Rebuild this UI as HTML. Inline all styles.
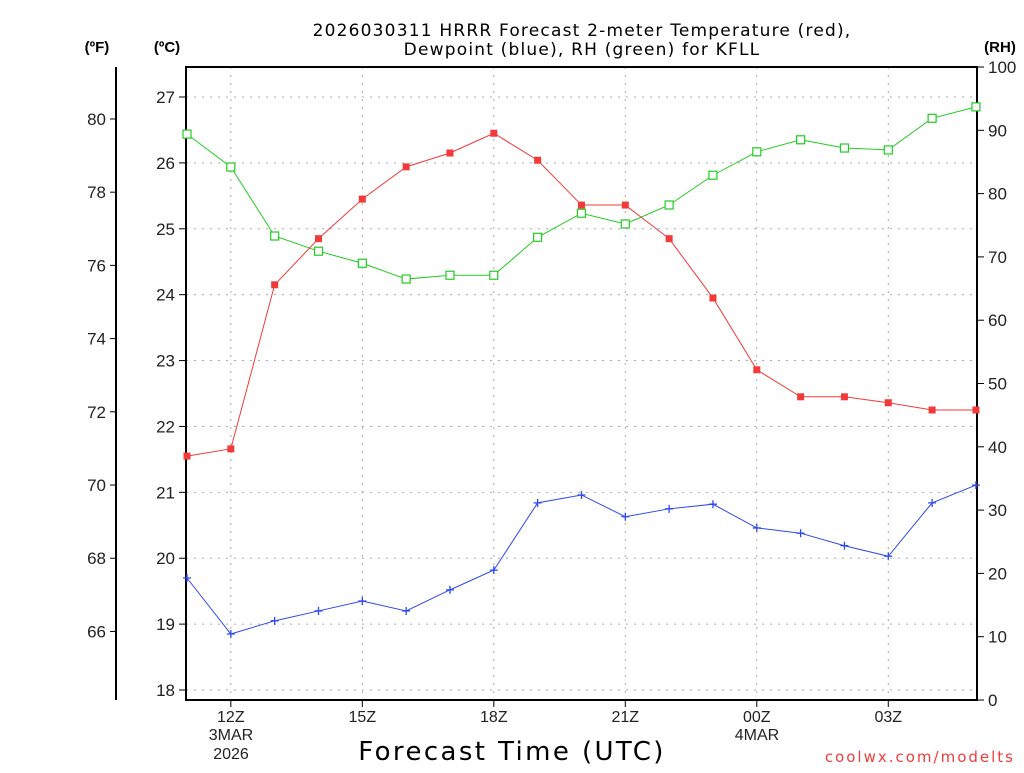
<!DOCTYPE html>
<html><head><meta charset="utf-8"><style>
body{margin:0;background:#fff;width:1024px;height:768px;overflow:hidden}
svg{font-family:"Liberation Sans","DejaVu Sans",sans-serif}
</style></head><body>
<svg id="chart" width="1024" height="768" viewBox="0 0 1024 768" xmlns="http://www.w3.org/2000/svg">
<rect width="1024" height="768" fill="#fff"/>
<g id="grid"></g>
<g id="axes"></g>
<g id="series"></g>
<text x="582" y="36" text-anchor="middle" font-size="17" letter-spacing="1.2" font-family="DejaVu Sans, sans-serif">2026030311 HRRR Forecast 2-meter Temperature (red),</text>
<text x="582" y="55" text-anchor="middle" font-size="17" letter-spacing="1.2" font-family="DejaVu Sans, sans-serif">Dewpoint (blue), RH (green) for KFLL</text>
<text x="97" y="52" text-anchor="middle" font-size="15" font-weight="bold">(ºF)</text>
<text x="167" y="52" text-anchor="middle" font-size="15" font-weight="bold">(ºC)</text>
<text x="1000" y="52" text-anchor="middle" font-size="15" font-weight="bold">(RH)</text>
<text x="512" y="760" text-anchor="middle" font-size="26" letter-spacing="2.4" font-family="DejaVu Sans, sans-serif">Forecast Time (UTC)</text>
<text x="1015" y="762" text-anchor="end" font-size="15" fill="#f03c3c" font-family="DejaVu Sans, sans-serif" letter-spacing="2">coolwx.com/modelts</text>
</svg>
<script>
const hours=[11,12,13,14,15,16,17,18,19,20,21,22,23,24,25,26,27,28,29];
const tempC=[21.55,21.66,24.15,24.85,25.45,25.94,26.15,26.45,26.04,25.36,25.36,24.85,23.95,22.86,22.45,22.45,22.36,22.25,22.25];
const dewC=[19.70,18.85,19.05,19.20,19.35,19.20,19.52,19.82,20.84,20.96,20.63,20.75,20.82,20.46,20.38,20.19,20.03,20.84,21.11];
const rh=[89.4,84.2,73.3,70.9,69.0,66.5,67.1,67.1,73.1,76.9,75.2,78.2,82.9,86.6,88.5,87.2,86.9,91.9,93.7];
const cTicks=[18,19,20,21,22,23,24,25,26,27];
const fTicks=[66,68,70,72,74,76,78,80];
const rhTicks=[0,10,20,30,40,50,60,70,80,90,100];
const xTickHours=[12,15,18,21,24,27];
const xTickLabels=["12Z","15Z","18Z","21Z","00Z","03Z"];
const X0=186,X1=977,Y0=67,Y1=700;
const NS="http://www.w3.org/2000/svg";
const xs=h=>187+(h-11)*43.83;
const yC=c=>97+(27-c)*65.89;
const yF=f=>yC((f-32)*5/9);
const yR=r=>700-r*6.33;
function mk(p,tag,a,txt){const e=document.createElementNS(NS,tag);for(const k in a)e.setAttribute(k,a[k]);if(txt!==undefined)e.textContent=txt;p.appendChild(e);return e;}
const grid=document.getElementById('grid'),axes=document.getElementById('axes'),ser=document.getElementById('series');
cTicks.forEach(c=>{const l=mk(grid,'line',{x1:X0,x2:X1,y1:yC(c),y2:yC(c),stroke:'#aaa','stroke-dasharray':'2 6'});


mk(axes,'line',{x1:X0-7,x2:X0,y1:yC(c),y2:yC(c),stroke:'#000'});
const t=mk(axes,'text',{x:X0-11,y:yC(c)+6,'text-anchor':'end','font-size':17,fill:'#222'},String(c));

});
xTickHours.forEach((h,i)=>{const l=mk(grid,'line',{x1:xs(h),x2:xs(h),y1:Y0,y2:Y1,stroke:'#aaa','stroke-dasharray':'2 6'});


mk(axes,'line',{x1:xs(h),x2:xs(h),y1:Y1,y2:Y1+7,stroke:'#000'});
const t=mk(axes,'text',{x:xs(h),y:722,'text-anchor':'middle','font-size':16,fill:'#222'},xTickLabels[i]);

});
[[231,740,'3MAR'],[231,759,'2026'],[757,740,'4MAR']].forEach(d=>{const t=mk(axes,'text',{x:d[0],y:d[1],'text-anchor':'middle','font-size':16,fill:'#222'},d[2]);

});
fTicks.forEach(f=>{mk(axes,'line',{x1:110,x2:116,y1:yF(f),y2:yF(f),stroke:'#000'});
const t=mk(axes,'text',{x:106,y:yF(f)+6,'text-anchor':'end','font-size':17,fill:'#222'},String(f));

});
rhTicks.forEach(r=>{mk(axes,'line',{x1:X1,x2:X1+7,y1:yR(r),y2:yR(r),stroke:'#000'});
const t=mk(axes,'text',{x:988,y:yR(r)+6,'font-size':17,fill:'#222'},String(r));

});
mk(axes,'line',{x1:116,x2:116,y1:Y0,y2:Y1,stroke:'#000','stroke-width':2});
mk(axes,'rect',{x:X0,y:Y0,width:X1-X0,height:Y1-Y0,fill:'none',stroke:'#000','stroke-width':2});
function series(vals,yf,color,marker,name){
const pts=vals.map((v,i)=>[xs(hours[i]),yf(v)]);
const pl=mk(ser,'polyline',{points:pts.map(p=>p.join(',')).join(' '),fill:'none',stroke:color,'stroke-width':1});


pts.forEach(p=>{let m;
if(marker==='fill')m=mk(ser,'rect',{x:p[0]-3.5,y:p[1]-3.5,width:7,height:7,fill:color});
else if(marker==='open')m=mk(ser,'rect',{x:p[0]-4,y:p[1]-4,width:8,height:8,fill:'#fff',stroke:color,'stroke-width':1.2});
else m=mk(ser,'path',{d:`M${p[0]-4},${p[1]}h8M${p[0]},${p[1]-4}v8`,stroke:color,'stroke-width':1.3});

});}
series(rh,yR,'#22cc22','open','rh');
series(tempC,yC,'#f23a3a','fill','temperature');
series(dewC,yC,'#2e48f0','plus','dewpoint');
</script>
</body></html>
